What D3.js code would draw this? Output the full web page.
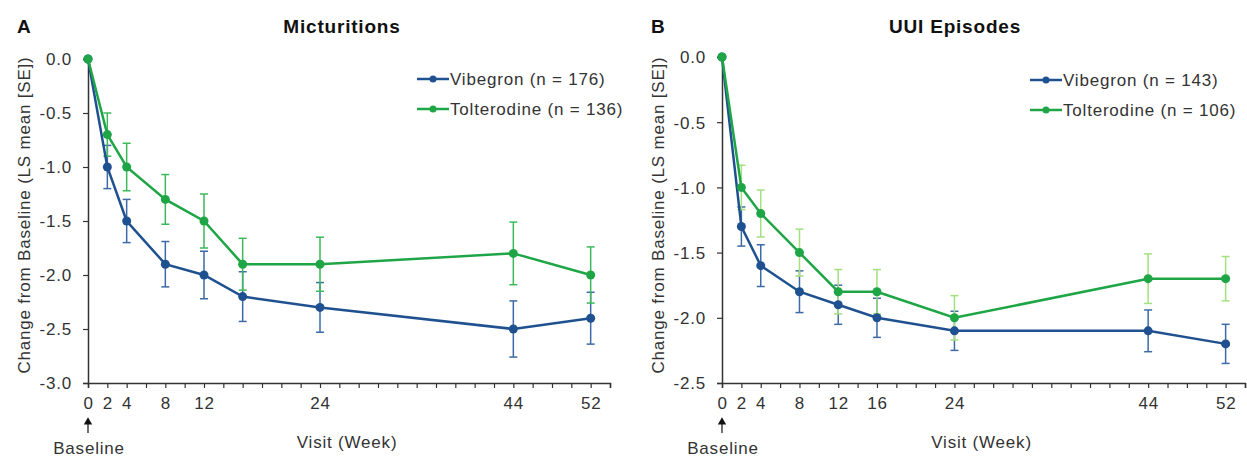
<!DOCTYPE html>
<html>
  <head>
    <meta charset="utf-8">
    <title>Micturitions and UUI Episodes</title>
    <script src="https://d3js.org/d3.v7.min.js"></script>
    <style>
      body { margin: 0; background: #fff; }
      text { font-family: Arial, "Liberation Sans", sans-serif; letter-spacing: 0.8px; }
    </style>
  </head>
  <body>

    <script>
      // ====================================
      // Change from baseline, two panels
      // ====================================

      const weeks = [0, 2, 4, 8, 12, 16, 24, 44, 52];

      // Panel A: micturitions
      const micVibegron = [0, -1.0, -1.5, -1.9, -2.0, -2.2, -2.3, -2.5, -2.4];
      const micVibegronSE = [0, 0.2, 0.2, 0.21, 0.22, 0.23, 0.23, 0.26, 0.24];
      const micTolterodine = [0, -0.7, -1.0, -1.3, -1.5, -1.9, -1.9, -1.8, -2.0];
      const micTolterodineSE = [0, 0.2, 0.22, 0.23, 0.25, 0.24, 0.25, 0.29, 0.26];
      const micXLabels = [0, 2, 4, 8, 12, 24, 44, 52];
      const micYTicks = [0, -0.5, -1, -1.5, -2, -2.5, -3];

      // Panel B: UUI episodes
      const uuiVibegron = [0, -1.3, -1.6, -1.8, -1.9, -2.0, -2.1, -2.1, -2.2];
      const uuiVibegronSE = [0, 0.15, 0.16, 0.16, 0.15, 0.15, 0.15, 0.16, 0.15];
      const uuiTolterodine = [0, -1.0, -1.2, -1.5, -1.8, -1.8, -2.0, -1.7, -1.7];
      const uuiTolterodineSE = [0, 0.17, 0.18, 0.18, 0.17, 0.17, 0.17, 0.19, 0.17];
      const uuiXLabels = [0, 2, 4, 8, 12, 16, 24, 44, 52];
      const uuiYTicks = [0, -0.5, -1, -1.5, -2, -2.5];

      const width = 1247;
      const height = 457;

      const svg = d3.select("body")
        .append("svg")
          .attr("width", width)
          .attr("height", height);

      // plain hyphen for negatives, as in the original figure
      const fmt = d => d3.format(".1f")(d).replace("\u2212", "-");

      function drawPanel(opts) {
        const g = svg.append("g");

        const xScale = d3.scaleLinear()
          .domain([0, 54])
          .range([opts.left, opts.right]);

        const yScale = d3.scaleLinear()
          .domain([0, opts.yMin])
          .range([opts.top, opts.bottom]);

        // x axis: a tick every 2 weeks, labels only at visit weeks
        const xAxis = d3.axisBottom(xScale)
          .tickValues(d3.range(0, 55, 2))
          .tickSize(5)
          .tickPadding(9)
          .tickFormat(d => opts.xLabels.includes(d) ? d : "");

        const yAxis = d3.axisLeft(yScale)
          .tickValues(opts.yTicks)
          .tickSize(5)
          .tickPadding(11)
          .tickFormat(fmt);

        const xg = g.append("g")
          .attr("transform", "translate(0," + opts.bottom + ")")
          .call(xAxis);

        const yg = g.append("g")
          .attr("transform", "translate(" + opts.left + ",0)")
          .call(yAxis);

        [xg, yg].forEach(a => {
          a.select(".domain").attr("stroke", "#333").attr("stroke-width", 1.5);
          a.selectAll(".tick line").attr("stroke", "#333").attr("stroke-width", 1.2);
          a.selectAll(".tick text")
            .attr("fill", "#333")
            .style("font-size", "17px")
            .style("font-family", "Arial, 'Liberation Sans', sans-serif");
        });
        yg.selectAll(".tick text").attr("dy", "0.35em");

        const line = d3.line()
          .x((d, i) => xScale(weeks[i]))
          .y(d => yScale(d));

        opts.series.forEach(s => {
          // error bars
          const bars = g.append("g");
          weeks.forEach((w, i) => {
            if (s.se[i] === 0) return;
            const x = xScale(w);
            const y1 = yScale(s.values[i] + s.se[i]);
            const y2 = yScale(s.values[i] - s.se[i]);
            bars.append("line")
              .attr("x1", x).attr("x2", x).attr("y1", y1).attr("y2", y2);
            bars.append("line")
              .attr("x1", x - 4).attr("x2", x + 4).attr("y1", y1).attr("y2", y1);
            bars.append("line")
              .attr("x1", x - 4).attr("x2", x + 4).attr("y1", y2).attr("y2", y2);
          });
          bars.selectAll("line")
            .attr("stroke", s.errColor)
            .attr("stroke-width", 1.5);
        });

        opts.series.forEach(s => {
          g.append("path")
            .attr("d", line(s.values))
            .attr("fill", "none")
            .attr("stroke", s.color)
            .attr("stroke-width", 2.5);

          g.selectAll(null)
            .data(s.values)
            .enter()
            .append("circle")
              .attr("cx", (d, i) => xScale(weeks[i]))
              .attr("cy", d => yScale(d))
              .attr("r", 4.5)
              .attr("fill", s.color);
        });

        // legend
        opts.series.forEach((s, i) => {
          const ly = opts.legendY + i * 30;
          g.append("line")
            .attr("x1", opts.legendX).attr("x2", opts.legendX + 32)
            .attr("y1", ly).attr("y2", ly)
            .attr("stroke", s.color).attr("stroke-width", 2.5);
          g.append("circle")
            .attr("cx", opts.legendX + 16).attr("cy", ly).attr("r", 3.5)
            .attr("fill", s.color);
          g.append("text")
            .attr("x", opts.legendX + 33)
            .attr("y", ly)
            .attr("dy", "0.35em")
            .attr("fill", "#333")
            .style("font-size", "17px")
            .text(s.name);
        });

        // titles
        g.append("text")
          .attr("x", opts.left - 71)
          .attr("y", 33)
          .style("font-size", "19px")
          .style("font-weight", "bold")
          .attr("fill", "#111")
          .text(opts.letter);

        g.append("text")
          .attr("x", opts.titleX)
          .attr("y", 33)
          .attr("text-anchor", "middle")
          .style("font-size", "19px")
          .style("font-weight", "bold")
          .attr("fill", "#111")
          .text(opts.title);

        g.append("text")
          .attr("transform", "translate(" + (opts.left - 58) + ",215) rotate(-90)")
          .attr("text-anchor", "middle")
          .attr("fill", "#333")
          .style("font-size", "17px")
          .text("Change from Baseline (LS mean [SE])");

        g.append("text")
          .attr("x", xScale(26.8))
          .attr("y", 448)
          .attr("text-anchor", "middle")
          .attr("fill", "#333")
          .style("font-size", "17px")
          .text("Visit (Week)");

        // baseline arrow
        const ax = xScale(0);
        g.append("line")
          .attr("x1", ax).attr("x2", ax)
          .attr("y1", 433).attr("y2", 423)
          .attr("stroke", "#111").attr("stroke-width", 1.2);
        g.append("path")
          .attr("d", d3.symbol().type(d3.symbolTriangle).size(30)())
          .attr("transform", "translate(" + ax + ",422)")
          .attr("fill", "#111");
        g.append("text")
          .attr("x", ax + 1)
          .attr("y", 454)
          .attr("text-anchor", "middle")
          .attr("fill", "#333")
          .style("font-size", "17px")
          .text("Baseline");
      }

      const blue = "#1f5190";
      const blueErr = "#3d6aa6";
      const green = "#1ea545";

      drawPanel({
        letter: "A",
        title: "Micturitions",
        titleX: 342,
        left: 88, right: 610, top: 59, bottom: 383,
        yMin: -3,
        yTicks: micYTicks,
        xLabels: micXLabels,
        legendX: 417, legendY: 79,
        series: [
          {name: "Vibegron (n = 176)", values: micVibegron, se: micVibegronSE, color: blue, errColor: blueErr},
          {name: "Tolterodine (n = 136)", values: micTolterodine, se: micTolterodineSE, color: green, errColor: "#3cba5a"}
        ]
      });

      drawPanel({
        letter: "B",
        title: "UUI Episodes",
        titleX: 955,
        left: 722, right: 1245, top: 57, bottom: 383,
        yMin: -2.5,
        yTicks: uuiYTicks,
        xLabels: uuiXLabels,
        legendX: 1030, legendY: 80,
        series: [
          {name: "Vibegron (n = 143)", values: uuiVibegron, se: uuiVibegronSE, color: blue, errColor: blueErr},
          {name: "Tolterodine (n = 106)", values: uuiTolterodine, se: uuiTolterodineSE, color: green, errColor: "#a3e07f"}
        ]
      });

    </script>
  </body>
</html>
